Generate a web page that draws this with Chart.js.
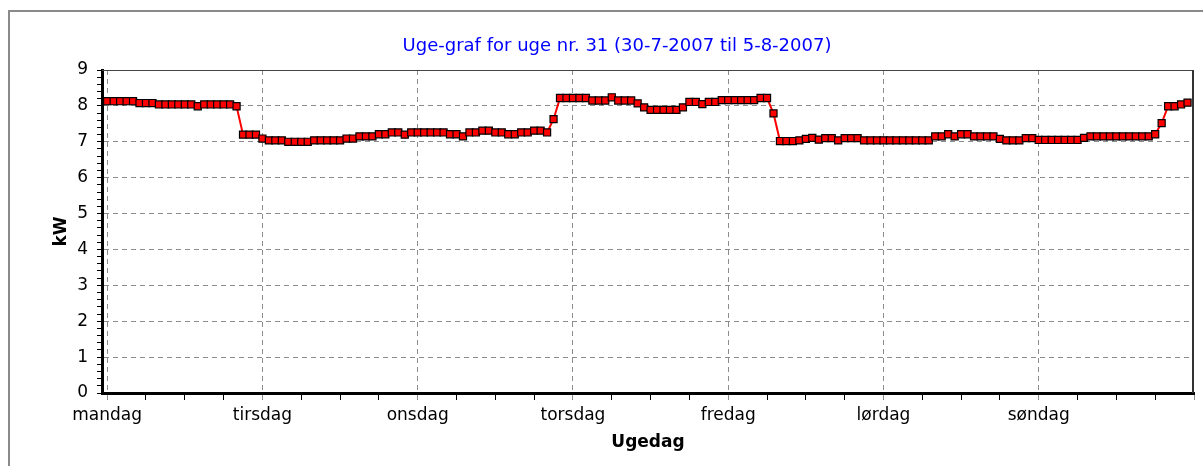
<!DOCTYPE html>
<html><head><meta charset="utf-8">
<script src="https://cdn.jsdelivr.net/npm/chart.js@4/dist/chart.umd.min.js"></script>
<style>
html,body{margin:0;padding:0;background:#fff;overflow:hidden;width:1203px;height:466px}
#frame{position:absolute;left:8px;top:10px;width:1300px;height:600px;border:2px solid #8a8a8a;box-sizing:border-box}
#wrap{position:absolute;left:0;top:0;width:1203px;height:466px}
</style></head><body>
<div id="frame"></div>
<div id="wrap"><canvas id="c" width="1203" height="466"></canvas></div>
<script>
// ---- data ----
const dayLabels = ['mandag','tirsdag','onsdag','torsdag','fredag','lørdag','søndag'];
const yTickLabels = ['0','1','2','3','4','5','6','7','8','9'];
const titleText = 'Uge-graf for uge nr. 31 (30-7-2007 til 5-8-2007)';
const xTitle = 'Ugedag';
const yTitle = 'kW';
// hourly kW values per day (24 each)
const mandag  = [8.13,8.13,8.13,8.13,8.13,8.08,8.08,8.08,8.04,8.04,8.04,8.04,8.04,8.04,7.99,8.04,8.04,8.04,8.04,8.04,7.99,7.20,7.20,7.20];
const tirsdag = [7.09,7.04,7.04,7.04,7.00,7.00,7.00,7.00,7.04,7.04,7.04,7.04,7.04,7.09,7.09,7.15,7.15,7.15,7.21,7.21,7.26,7.26,7.20,7.26];
const onsdag  = [7.26,7.26,7.26,7.26,7.26,7.21,7.21,7.15,7.26,7.26,7.31,7.31,7.26,7.26,7.21,7.21,7.26,7.26,7.31,7.31,7.26,7.63,8.22,8.22];
const torsdag = [8.22,8.22,8.22,8.15,8.15,8.15,8.24,8.15,8.15,8.15,8.07,7.96,7.89,7.89,7.89,7.89,7.89,7.96,8.11,8.11,8.05,8.11,8.11,8.16];
const fredag  = [8.16,8.16,8.16,8.16,8.16,8.22,8.22,7.79,7.02,7.02,7.02,7.04,7.08,7.11,7.06,7.10,7.10,7.04,7.10,7.10,7.10,7.04,7.04,7.04];
const loerdag = [7.04,7.04,7.04,7.04,7.04,7.04,7.04,7.04,7.15,7.15,7.21,7.15,7.21,7.21,7.15,7.15,7.15,7.15,7.08,7.04,7.04,7.04,7.10,7.10];
const soendag = [7.05,7.05,7.05,7.05,7.05,7.05,7.05,7.11,7.15,7.15,7.15,7.15,7.15,7.15,7.15,7.15,7.15,7.15,7.21,7.52,7.99,7.99,8.04,8.09];

const days = [mandag, tirsdag, onsdag, torsdag, fredag, loerdag, soendag];
const points = [];
days.forEach((arr, d) => arr.forEach((v, h) => points.push({x: d * 24 + h, y: v})));

const GRID = '#8c8c8c';
const FONT = 'DejaVu Sans';

const framePlugin = {
  id: 'framePlugin',
  beforeDatasetsDraw(chart) {
    const {ctx, chartArea: a} = chart;
    ctx.save();
    ctx.strokeStyle = '#444';
    ctx.lineWidth = 1;
    ctx.beginPath();
    ctx.moveTo(a.left, a.top + 0.5);
    ctx.lineTo(a.right, a.top + 0.5);
    ctx.stroke();
    ctx.lineWidth = 2;
    ctx.strokeStyle = '#333';
    ctx.beginPath();
    ctx.moveTo(a.right - 1, a.top);
    ctx.lineTo(a.right - 1, a.bottom);
    ctx.stroke();
    ctx.restore();
  },
  afterDraw(chart) {
    const {ctx} = chart;
    ctx.save();
    ctx.fillStyle = '#0000ff';
    ctx.font = '18px "' + FONT + '"';
    ctx.textAlign = 'center';
    ctx.textBaseline = 'middle';
    ctx.fillText(titleText, 617, 46);
    ctx.restore();
  }
};

new Chart(document.getElementById('c'), {
  type: 'line',
  data: {
    datasets: [{
      data: points,
      borderColor: '#ff0000',
      borderWidth: 2,
      pointStyle: 'rect',
      pointRadius: 5,
      pointBackgroundColor: '#ff0000',
      pointBorderColor: '#000000',
      pointBorderWidth: 1.2,
      tension: 0
    }]
  },
  options: {
    responsive: false,
    devicePixelRatio: 1,
    animation: false,
    layout: {padding: {top: 70, right: 9, left: 0, bottom: 0}},
    plugins: {legend: {display: false}, tooltip: {enabled: false}, title: {display: false}},
    scales: {
      x: {
        type: 'linear',
        min: -0.8,
        max: 168,
        afterBuildTicks: s => { const t = []; for (let v = 0; v <= 168; v += 6) t.push({value: v}); s.ticks = t; },
        afterFit: s => { s.height = 73; },
        ticks: {
          autoSkip: false, maxRotation: 0, padding: 5,
          color: '#000', font: {family: FONT, size: 17},
          callback: v => (v % 24 === 0 && v < 168) ? dayLabels[v / 24] : ''
        },
        grid: {
          color: c => (c.tick && c.tick.value % 24 === 0 && c.tick.value < 168) ? GRID : 'rgba(0,0,0,0)',
          tickColor: c => (c.tick && c.tick.value % 24 === 0) ? GRID : '#000',
          lineWidth: 1, drawTicks: true, tickLength: 7
        },
        border: {display: true, color: '#000', width: 3, dash: [5, 4]},
        title: {display: true, text: xTitle, color: '#000', font: {family: FONT, size: 17, weight: 'bold'}, padding: {top: 0, bottom: 13}}
      },
      y: {
        min: 0, max: 9,
        afterBuildTicks: s => { const t = []; for (let i = 0; i <= 45; i++) t.push({value: Math.round(i * 2) / 10}); s.ticks = t; },
        afterFit: s => { s.width = 102; },
        ticks: {
          autoSkip: false, padding: 9,
          color: '#000', font: {family: FONT, size: 17},
          callback: v => Number.isInteger(Math.round(v * 1000) / 1000) ? yTickLabels[Math.round(v)] : ''
        },
        grid: {
          color: c => (c.tick && Math.abs(c.tick.value - Math.round(c.tick.value)) < 1e-6 && c.tick.value > 0 && c.tick.value < 9) ? GRID : 'rgba(0,0,0,0)',
          tickColor: '#000', lineWidth: 1, drawTicks: true, tickLength: 5
        },
        border: {display: true, color: '#000', width: 3, dash: [5, 4]},
        title: {display: true, text: yTitle, color: '#000', font: {family: FONT, size: 17, weight: 'bold'}, padding: {top: 51, bottom: 0}}
      }
    }
  },
  plugins: [framePlugin]
});
</script>
</body></html>
